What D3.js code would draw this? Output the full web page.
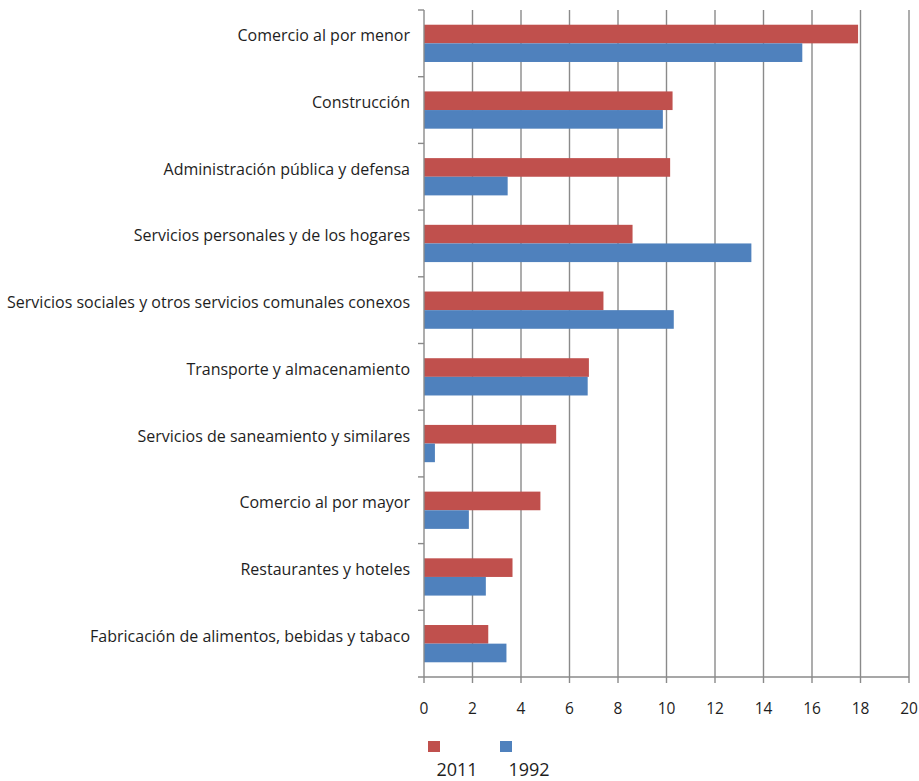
<!DOCTYPE html>
<html>
<head>
<meta charset="utf-8">
<script src="https://cdn.jsdelivr.net/npm/d3@7"></script>
<style>
  body { margin: 0; background: #fff; }
  text { font-family: "Open Sans", sans-serif; fill: #1e1e1e; }
</style>
</head>
<body>
<script>
(function () {
  'use strict'

  var categories = [
    'Comercio al por menor',
    'Construcción',
    'Administración pública y defensa',
    'Servicios personales y de los hogares',
    'Servicios sociales y otros servicios comunales conexos',
    'Transporte y almacenamiento',
    'Servicios de saneamiento y similares',
    'Comercio al por mayor',
    'Restaurantes y hoteles',
    'Fabricación de alimentos, bebidas y tabaco'
  ]
  var values2011 = [17.9, 10.25, 10.15, 8.6, 7.4, 6.8, 5.45, 4.8, 3.65, 2.65]
  var values1992 = [15.6, 9.85, 3.45, 13.5, 10.3, 6.75, 0.45, 1.85, 2.55, 3.4]
  var seriesNames = ['2011', '1992']
  var xTicks = [0, 2, 4, 6, 8, 10, 12, 14, 16, 18, 20]

  var colors = { '2011': '#c0504d', '1992': '#4f81bd' }
  var gridColor = '#8a8a8a'

  var dim = { w: 919, h: 781 }
  var plot = { left: 424, right: 909, top: 10, bottom: 677 }

  var svg = d3.select('body').append('svg')
    .attr('width', dim.w)
    .attr('height', dim.h)

  var x = d3.scaleLinear().domain([0, 20]).range([plot.left, plot.right])
  var y = d3.scaleBand().domain(categories).range([plot.top, plot.bottom])
  var inner = d3.scaleBand().domain(seriesNames)
    .range([0, y.bandwidth()]).paddingOuter(0.79)

  // vertical gridlines, running down through the tick marks
  svg.append('g').selectAll('line')
    .data(xTicks.slice(1))
    .enter().append('line')
    .attr('x1', function (d) { return x(d) })
    .attr('x2', function (d) { return x(d) })
    .attr('y1', plot.top)
    .attr('y2', plot.bottom + 6)
    .attr('stroke', gridColor)
    .attr('stroke-width', 1.4)

  var rows = categories.map(function (c, i) {
    return { cat: c, vals: [values2011[i], values1992[i]] }
  })

  var groups = svg.append('g').selectAll('g')
    .data(rows)
    .enter().append('g')
    .attr('transform', function (d) { return 'translate(0,' + y(d.cat) + ')' })

  groups.selectAll('rect')
    .data(function (d) {
      return d.vals.map(function (v, j) { return { s: seriesNames[j], v: v } })
    })
    .enter().append('rect')
    .attr('x', x(0))
    .attr('y', function (d) { return inner(d.s) })
    .attr('width', function (d) { return x(d.v) - x(0) })
    .attr('height', inner.bandwidth())
    .attr('fill', function (d) { return colors[d.s] })

  // left axis
  var leftAxis = svg.append('g')
  leftAxis.append('line')
    .attr('x1', plot.left).attr('x2', plot.left)
    .attr('y1', plot.top).attr('y2', plot.bottom + 6)
    .attr('stroke', gridColor).attr('stroke-width', 1.4)
  leftAxis.selectAll('.cat-tick')
    .data(categories)
    .enter().append('line')
    .attr('class', 'cat-tick')
    .attr('x1', plot.left - 6).attr('x2', plot.left)
    .attr('y1', function (d) { return y(d) })
    .attr('y2', function (d) { return y(d) })
    .attr('stroke', gridColor).attr('stroke-width', 1.4)
  leftAxis.selectAll('text')
    .data(categories)
    .enter().append('text')
    .attr('x', plot.left - 14)
    .attr('y', function (d) { return y(d) + y.bandwidth() / 2 - 2 })
    .attr('text-anchor', 'end')
    .attr('font-size', 16)
    .text(function (d) { return d })

  // bottom axis
  var bottomAxis = svg.append('g')
  bottomAxis.append('line')
    .attr('x1', plot.left - 6).attr('x2', plot.right)
    .attr('y1', plot.bottom).attr('y2', plot.bottom)
    .attr('stroke', gridColor).attr('stroke-width', 1.4)
  bottomAxis.selectAll('text')
    .data(xTicks)
    .enter().append('text')
    .attr('x', function (d) { return x(d) })
    .attr('y', 714)
    .attr('text-anchor', 'middle')
    .attr('font-size', 15.5)
    .text(function (d) { return d })

  // legend
  var legend = svg.append('g').selectAll('g')
    .data(seriesNames)
    .enter().append('g')
    .attr('transform', function (d, i) { return 'translate(' + (428 + i * 72) + ',741)' })
  legend.append('rect')
    .attr('width', 12).attr('height', 11)
    .attr('fill', function (d) { return colors[d] })
  legend.append('text')
    .attr('x', 29).attr('y', 35)
    .attr('text-anchor', 'middle')
    .attr('font-size', 18)
    .text(function (d) { return d })
}())
</script>
</body>
</html>
